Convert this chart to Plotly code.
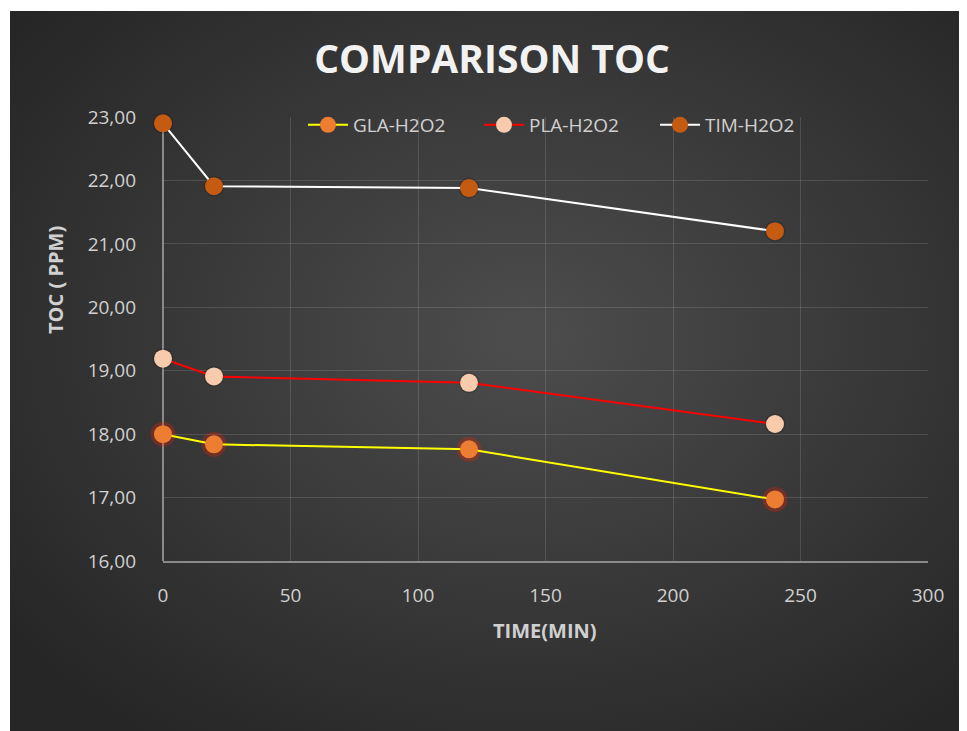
import base64
import plotly.graph_objects as go

# data
time_min = [0, 20, 120, 240]
gla_h2o2 = [18.00, 17.84, 17.76, 16.97]
pla_h2o2 = [19.19, 18.91, 18.81, 18.16]
tim_h2o2 = [22.90, 21.91, 21.88, 21.20]

x_ticks = [0, 50, 100, 150, 200, 250, 300]
y_ticks = [16, 17, 18, 19, 20, 21, 22, 23]

# page body has an 8px margin, so the figure is a bit smaller than the window
W, H = 959, 723
ML, MR, MT, MB = 155, 39, 109, 170
PW, PH = W - ML - MR, H - MT - MB

# radial gradient for the dark chart area
svg = (
    '<svg xmlns="http://www.w3.org/2000/svg" width="957" height="720">'
    '<defs><radialGradient id="g" cx="54%" cy="45%" r="68%">'
    '<stop offset="0%" stop-color="#4d4d4d"/>'
    '<stop offset="100%" stop-color="#262626"/>'
    '</radialGradient></defs>'
    '<rect width="957" height="720" fill="url(#g)"/></svg>'
)
bg_src = "data:image/svg+xml;base64," + base64.b64encode(svg.encode()).decode()

series = [
    ("GLA-H2O2", gla_h2o2, "#ffff00", "#ed7d31", "rgba(255,30,0,0.28)", 25),
    ("PLA-H2O2", pla_h2o2, "#ff0000", "#f8cbad", "rgba(0,0,0,0.15)", 21),
    ("TIM-H2O2", tim_h2o2, "#ffffff", "#c55a11", "rgba(0,0,0,0.15)", 21),
]

fig = go.Figure()

# soft glow/shadow under the markers
for name, vals, lc, mc, glow, gs in series:
    fig.add_trace(go.Scatter(
        x=time_min, y=vals, mode="markers",
        marker=dict(size=gs, color=glow, line=dict(width=0)),
        hoverinfo="skip", showlegend=False, cliponaxis=False,
    ))

for name, vals, lc, mc, glow, gs in series:
    fig.add_trace(go.Scatter(
        x=time_min, y=vals, name=name, mode="lines+markers",
        line=dict(color=lc, width=2),
        marker=dict(size=18, color=mc, line=dict(width=0)),
        cliponaxis=False,
    ))

txt = "#d0d0d0"
axis_font = dict(family="Open Sans", size=19, color=txt)
title_font = dict(family="Open Sans", size=20, color=txt)
fig.update_layout(
    width=W, height=H,
    margin=dict(l=ML, r=MR, t=MT, b=MB),
    paper_bgcolor="white",
    plot_bgcolor="rgba(0,0,0,0)",
    separators=",.",
    images=[dict(
        source=bg_src, xref="paper", yref="paper",
        x=(2 - ML) / PW, y=1 + (MT - 3) / PH,
        sizex=(W - 2) / PW, sizey=(H - 3) / PH,
        sizing="stretch", xanchor="left", yanchor="top", layer="below",
    )],
    title=dict(
        text="<b>COMPARISON TOC</b>", x=484 / W, xanchor="center",
        y=1 - 51 / H, yanchor="middle",
        font=dict(family="Open Sans", size=39, color="#f2f2f2"),
    ),
    legend=dict(
        orientation="h", x=0.183, y=1 - 8 / PH, xanchor="left", yanchor="middle",
        bgcolor="rgba(0,0,0,0)", font=dict(family="Open Sans", size=19, color=txt),
        itemwidth=40, entrywidth=121,
    ),
    xaxis=dict(
        range=[0, 300], tickvals=x_ticks, ticks="",
        showgrid=True, gridcolor="rgba(255,255,255,0.13)", gridwidth=1,
        showline=True, linecolor="#8a8a8a", linewidth=1.5,
        zeroline=True, zerolinecolor="#8a8a8a", zerolinewidth=1.5,
        tickfont=axis_font, ticklabelstandoff=16,
    ),
    yaxis=dict(
        range=[16, 23], tickvals=y_ticks, tickformat=".2f", ticks="",
        showgrid=True, gridcolor="rgba(255,255,255,0.13)", gridwidth=1,
        showline=False, zeroline=False,
        tickfont=axis_font, ticklabelstandoff=26,
    ),
    annotations=[
        dict(text="<b>TIME(MIN)</b>", xref="paper", yref="paper",
             x=(537 - ML) / PW, y=1 - (622 - MT) / PH,
             xanchor="center", yanchor="middle", showarrow=False, font=title_font),
        dict(text="<b>TOC ( PPM)</b>", xref="paper", yref="paper",
             x=(47 - ML) / PW, y=1 - (272 - MT) / PH, textangle=-90,
             xanchor="center", yanchor="middle", showarrow=False, font=title_font),
    ],
)

fig.write_html("out.html")
